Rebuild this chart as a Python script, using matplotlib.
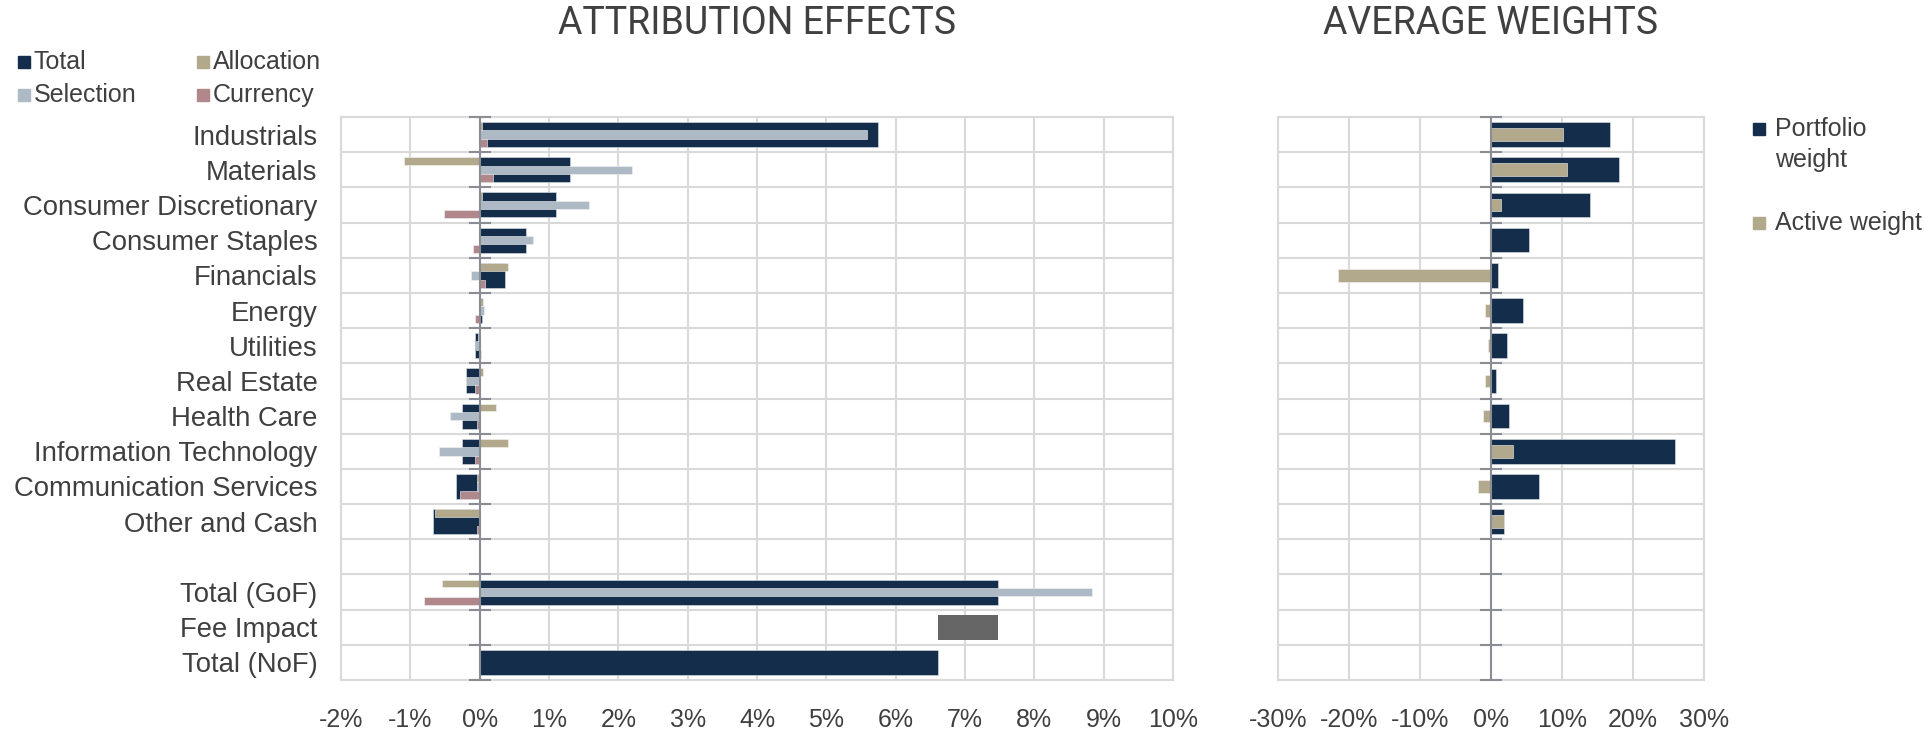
import numpy as np
import matplotlib
matplotlib.use("Agg")
import matplotlib.pyplot as plt
from matplotlib.patches import Rectangle

nan = np.nan

categories = [
    "Industrials", "Materials", "Consumer Discretionary", "Consumer Staples",
    "Financials", "Energy", "Utilities", "Real Estate", "Health Care",
    "Information Technology", "Communication Services", "Other and Cash",
    "", "Total (GoF)", "Fee Impact", "Total (NoF)",
]

# attribution effects, in %
total = [5.74, 1.30, 1.10, 0.67, 0.36, 0.04, -0.07, -0.19, -0.25, -0.25, -0.34, -0.67,
         nan, 7.48, nan, 6.61]
allocation = [0.04, -1.09, 0.04, 0.01, 0.41, 0.05, -0.03, 0.05, 0.23, 0.41, -0.04, -0.64,
              nan, -0.55, nan, nan]
selection = [5.59, 2.20, 1.58, 0.77, -0.13, 0.06, -0.05, -0.19, -0.43, -0.58, -0.04, 0.0,
             nan, 8.83, nan, nan]
currency = [0.11, 0.19, -0.52, -0.10, 0.08, -0.07, 0.02, -0.07, -0.04, -0.07, -0.28, -0.04,
            nan, -0.80, nan, nan]
total_gof = 7.48
total_nof = 6.61

# average weights, in %
portfolio_weight = [16.8, 18.0, 13.9, 5.3, 1.0, 4.5, 2.2, 0.7, 2.5, 25.9, 6.8, 1.9,
                    nan, nan, nan, nan]
active_weight = [10.1, 10.7, 1.4, 0.0, -21.5, -0.8, -0.4, -0.8, -1.1, 3.1, -1.9, 1.9,
                 nan, nan, nan, nan]

NAVY = "#132d4a"
TAN = "#b2a88b"
SEL = "#adbac5"
CUR = "#b0878a"
FEE = "#666666"
GRID = "#d9d9d9"
ZERO = "#8a8d94"
TXT = "#3f3f3f"

plt.rcParams["font.family"] = ["Liberation Sans", "DejaVu Sans"]

W, H = 1929, 731
fig = plt.figure(figsize=(W / 100, H / 100), dpi=100)

top, bottom = 117, 680
ax1 = fig.add_axes([341 / W, 1 - bottom / H, (1173 - 341) / W, (bottom - top) / H])
ax2 = fig.add_axes([1278 / W, 1 - bottom / H, (1704 - 1278) / W, (bottom - top) / H])

y = np.arange(len(categories))


def style_axis(ax, xticks):
    ax.set_ylim(len(categories) - 0.5, -0.5)
    ax.set_xlim(xticks[0], xticks[-1])
    ax.set_xticks(xticks)
    ax.set_xticklabels([f"{v:.0f}%" for v in xticks], fontsize=18, color=TXT)
    ax.set_yticks(np.arange(len(categories) + 1) - 0.5, minor=True)
    ax.grid(axis="x", which="major", color=GRID, lw=1.5)
    ax.grid(axis="y", which="minor", color=GRID, lw=1.5)
    ax.set_axisbelow(True)
    ax.tick_params(axis="x", length=0, pad=20)
    ax.tick_params(axis="y", which="both", length=0)
    for s in ax.spines.values():
        s.set_color(GRID)
        s.set_linewidth(1.5)
    ax.axvline(0, color=ZERO, lw=1.5, zorder=5)
    bounds = np.arange(len(categories) + 1) - 0.5
    ax.plot(np.zeros(len(bounds)), bounds, linestyle="none", marker="_",
            markersize=16, markeredgewidth=1.5, color=ZERO, zorder=6, clip_on=False)


# left chart: attribution effects
style_axis(ax1, np.arange(-2, 11, 1))
ax1.barh(y, total, height=0.71, color=NAVY, edgecolor="#dfe4ea", lw=0.4, zorder=2)
ax1.barh(y - 0.245, allocation, height=0.22, color=TAN, edgecolor="#f4f4f4", lw=0.4, zorder=3)
ax1.barh(y, selection, height=0.24, color=SEL, edgecolor="#f4f4f4", lw=0.4, zorder=3)
ax1.barh(y + 0.245, currency, height=0.23, color=CUR, edgecolor="#f4f4f4", lw=0.4, zorder=3)
fee_row = categories.index("Fee Impact")
ax1.barh(fee_row, total_gof - total_nof, left=total_nof, height=0.71, color=FEE, zorder=2)
ax1.set_yticks(y)
ax1.set_yticklabels(categories, fontsize=19.8, color=TXT)
ax1.tick_params(axis="y", which="major", pad=17)

# right chart: average weights
style_axis(ax2, np.arange(-30, 31, 10))
ax2.barh(y, portfolio_weight, height=0.7, color=NAVY, edgecolor="#dfe4ea", lw=0.4, zorder=2)
ax2.barh(y, active_weight, height=0.36, color=TAN, edgecolor="#f4f4f4", lw=0.4, zorder=3)
ax2.set_yticks(y)
ax2.set_yticklabels([])

# titles
for ax, title in [(ax1, "ATTRIBUTION EFFECTS"), (ax2, "AVERAGE WEIGHTS")]:
    bb = ax.get_position()
    fig.text((bb.x0 + bb.x1) / 2, 1 - 23 / H, title, ha="center", va="center",
             fontsize=27, color="#404040", family=["Roboto", "DejaVu Sans"])


def legend_item(x, yc, color, label, size=12, gap=6):
    fig.add_artist(Rectangle((x / W, 1 - (yc + size / 2) / H), size / W, size / H,
                             transform=fig.transFigure, color=color))
    fig.text((x + size + gap) / W, 1 - yc / H, label, ha="left", va="center",
             fontsize=18, color=TXT)


legend_item(18, 62, NAVY, "Total", gap=4)
legend_item(197, 62, TAN, "Allocation", gap=4)
legend_item(18, 95, SEL, "Selection", gap=4)
legend_item(197, 95, CUR, "Currency", gap=4)

legend_item(1753, 129, NAVY, "Portfolio", gap=10)
fig.text((1753 + 22) / W, 1 - 160 / H, "weight", ha="left", va="center", fontsize=18, color=TXT)
legend_item(1753, 223, TAN, "Active weight", gap=10)

fig.savefig("out.png", dpi=100)
